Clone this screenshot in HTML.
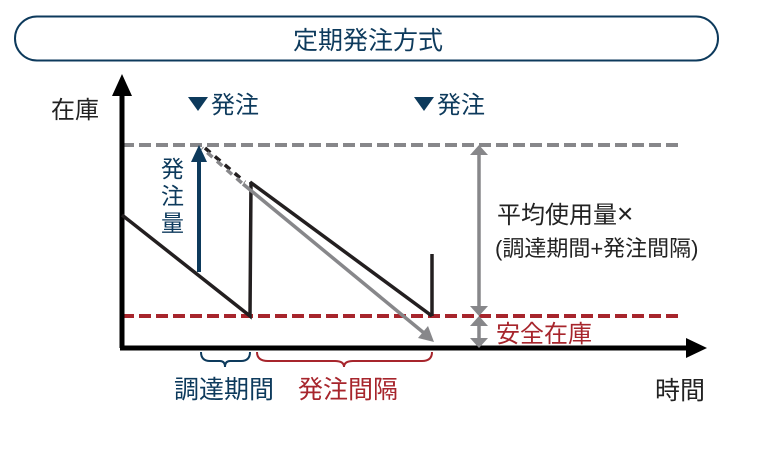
<!DOCTYPE html>
<html><head><meta charset="utf-8"><style>
html,body{margin:0;padding:0;background:#fff;}
svg text{font-family:"Liberation Sans","Noto Sans CJK JP",sans-serif;}
</style></head><body>
<svg width="761" height="450" viewBox="0 0 761 450" xmlns="http://www.w3.org/2000/svg">
<rect x="15" y="16.5" width="703" height="44" rx="22" fill="#fff" stroke="#0d3a5c" stroke-width="2"/>
<text x="368" y="49" font-size="25" text-anchor="middle" fill="#0d3a5c">定期発注方式</text>
<text x="51" y="118" font-size="24" fill="#222">在庫</text>
<polygon points="188,97 208,97 198,111" fill="#0d3a5c"/>
<text x="211" y="113" font-size="24" fill="#0d3a5c">発注</text>
<polygon points="414,97 434,97 424,111" fill="#0d3a5c"/>
<text x="437" y="113" font-size="24" fill="#0d3a5c">発注</text>
<!-- dashed lines -->
<line x1="122" y1="145" x2="680" y2="145" stroke="#87878a" stroke-width="4" stroke-dasharray="12,5"/>
<line x1="122" y1="316" x2="680" y2="316" stroke="#a7252c" stroke-width="4" stroke-dasharray="12,5"/>
<!-- axes -->
<line x1="122" y1="348" x2="122" y2="90" stroke="#000" stroke-width="5"/>
<polygon points="122,74 112,96 132,96" fill="#000"/>
<line x1="120" y1="348" x2="690" y2="348" stroke="#000" stroke-width="5"/>
<polygon points="707,348 686,338 686,358" fill="#000"/>
<!-- stock lines -->
<polyline points="122,215 250,316 251,182" fill="none" stroke="#231f20" stroke-width="3.5"/>
<line x1="250" y1="182" x2="432" y2="316" stroke="#231f20" stroke-width="3.5"/>
<line x1="432" y1="316" x2="432" y2="254" stroke="#231f20" stroke-width="3.5"/>
<line x1="205" y1="148" x2="245" y2="182" stroke="#231f20" stroke-width="3.5" stroke-dasharray="7,6"/>
<line x1="202" y1="148" x2="243" y2="184" stroke="#87878a" stroke-width="3.5" stroke-dasharray="7,6" stroke-dashoffset="6"/>
<line x1="243" y1="184" x2="424" y2="333" stroke="#87878a" stroke-width="3.5"/>
<polygon points="434,342 418,338 428,326" fill="#87878a"/>
<!-- blue arrow -->
<line x1="199" y1="272" x2="199" y2="158" stroke="#0d3a5c" stroke-width="4"/>
<polygon points="199,145 191,162 207,162" fill="#0d3a5c"/>
<text font-size="23" fill="#0d3a5c"><tspan x="161" y="177">発</tspan><tspan x="161" y="204">注</tspan><tspan x="161" y="231">量</tspan></text>
<!-- double arrows -->
<line x1="479" y1="155" x2="479" y2="306" stroke="#87878a" stroke-width="3.5"/>
<polygon points="479,145 470,155 488,155" fill="#87878a"/>
<polygon points="479,316 470,306 488,306" fill="#87878a"/>
<line x1="479" y1="324" x2="479" y2="340" stroke="#87878a" stroke-width="3.5"/>
<polygon points="479,316 470,326 488,326" fill="#87878a"/>
<polygon points="479,348 470,338 488,338" fill="#87878a"/>
<text x="497" y="223" font-size="24" fill="#222">平均使用量<tspan font-size="28">×</tspan></text>
<text x="495" y="256" font-size="22" fill="#222">(調達期間+発注間隔)</text>
<text x="496" y="342" font-size="24" fill="#a7252c">安全在庫</text>
<!-- braces -->
<path d="M201,352 Q201,361 210,361 L220,361 Q225,361 225,367 Q225,361 230,361 L241,361 Q250,361 250,352" fill="none" stroke="#0d3a5c" stroke-width="2"/>
<path d="M257,352 Q257,361 268,361 L335,361 Q344,361 344,367 Q344,361 353,361 L422,361 Q432,361 432,352" fill="none" stroke="#a7252c" stroke-width="2"/>
<text x="174" y="398" font-size="25" fill="#0d3a5c">調達期間</text>
<text x="298" y="398" font-size="25" fill="#a7252c">発注間隔</text>
<text x="655" y="399" font-size="25" fill="#222">時間</text>
</svg>
</body></html>
